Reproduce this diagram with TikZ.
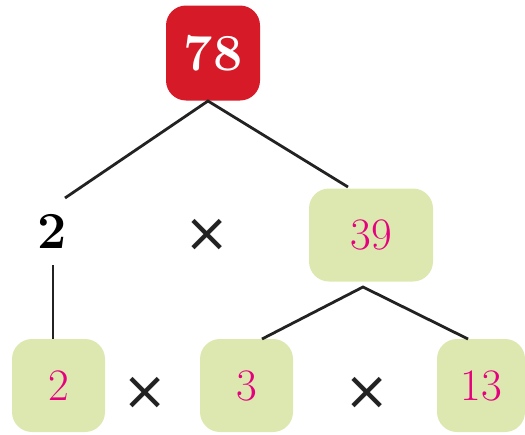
\documentclass[tikz,border=0pt]{standalone}
\usepackage{fontspec}
\newfontfamily\timesfont{DejaVu Sans}
\definecolor{boxred}{HTML}{D71A28}
\definecolor{boxgreen}{HTML}{DCE8B0}
\definecolor{numpink}{HTML}{E5007D}
\definecolor{linegray}{HTML}{222222}
\tikzset{
  redbox/.style={fill=boxred, rounded corners=20pt, minimum width=94pt, minimum height=95pt, inner sep=0pt, text=white, font=\fontsize{52}{52}\selectfont\bfseries},
  greenbox/.style={fill=boxgreen, rounded corners=20pt, minimum height=93pt, inner sep=0pt, text=numpink, font=\fontsize{45}{45}\selectfont},
  plain/.style={inner sep=0pt, font=\fontsize{52}{52}\selectfont\bfseries},
  times/.style={inner sep=0pt, text=linegray, font=\timesfont\fontsize{54}{54}\selectfont},
  conn/.style={draw=linegray, line width=2.8pt}
}
\begin{document}
\begin{tikzpicture}[x=1pt,y=-1pt]
\useasboundingbox (0,0) rectangle (525,434);
\node[redbox] (n78) at (213,53) {78};
\node[plain] (n2a) at (52,231) {2};
\node[times] (x1) at (207,235) {×};
\node[greenbox, minimum width=124pt] (n39) at (371,235) {39};
\node[greenbox, minimum width=93pt] (n2) at (58.5,385.5) {2};
\node[times] (x2) at (145,393) {×};
\node[greenbox, minimum width=93pt] (n3) at (246.5,385.5) {3};
\node[times] (x3) at (367,393) {×};
\node[greenbox, minimum width=88pt] (n13) at (481,385.5) {13};
\coordinate (a1) at (208,101);
\coordinate (a2) at (363,287);
\coordinate (e1) at (65,198);
\coordinate (e2) at (348,187);
\coordinate (e3) at (53,265);
\coordinate (e4) at (262,339);
\coordinate (e5) at (468,339);
\draw[conn] (e1) -- (a1) -- (e2);
\draw[conn] (e3) -- (n2.north -| e3);
\draw[conn] (e4) -- (a2) -- (e5);
\end{tikzpicture}
\end{document}
